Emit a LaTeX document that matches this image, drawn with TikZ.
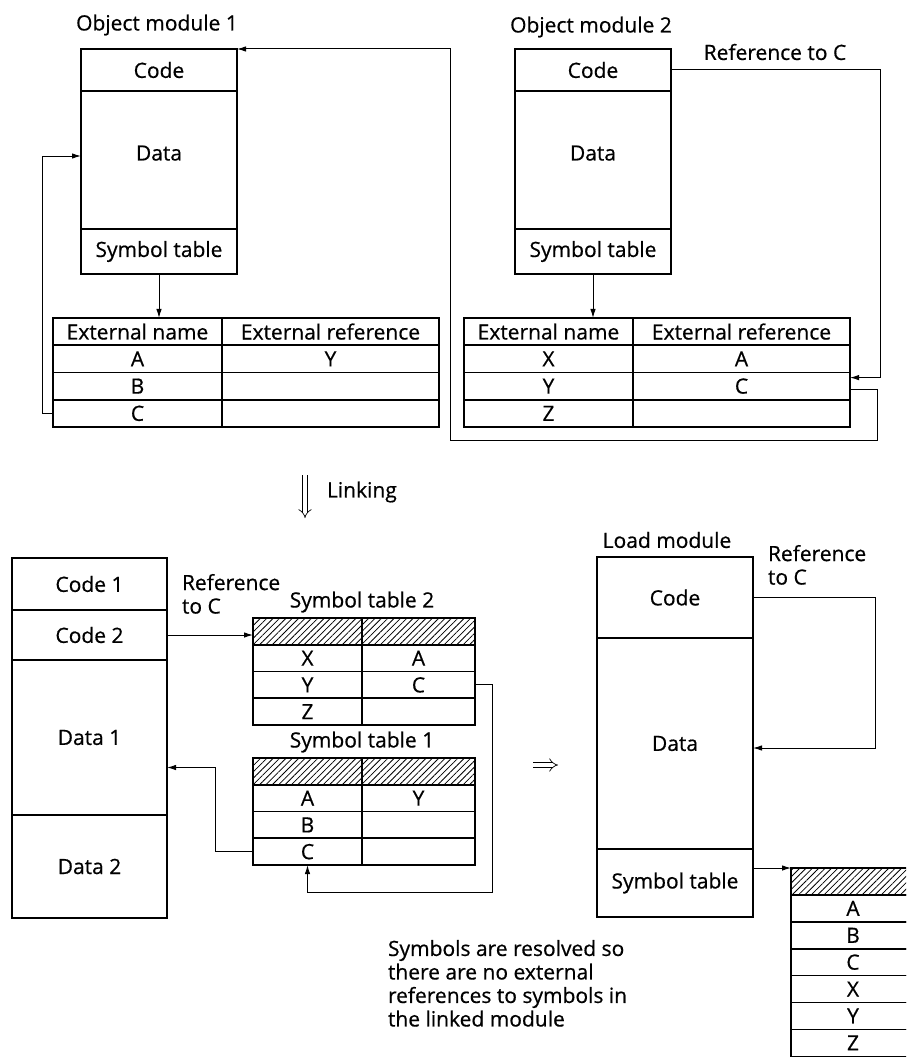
\documentclass[tikz,border=0pt]{standalone}
\usepackage{fontspec}
\setmainfont{Open Sans}[FakeBold=0.6]
\usetikzlibrary{arrows.meta,patterns.meta,calc}

\begin{document}
\begin{tikzpicture}[
    x=1pt, y=-1pt,
    >={Latex[length=9pt,width=5.5pt]},
    every node/.style={font=\fontsize{21}{23.5}\selectfont, inner sep=0pt, outer sep=0pt},
    seg/.style={rectangle, draw, line width=1.6pt, minimum width=#1},
    cell/.style={rectangle, draw, line width=1.6pt, minimum width=#1, minimum height=27.25},
    hdr/.style={pattern={Lines[angle=45,distance=4.5pt,line width=0.8pt]}},
    link/.style={->, line width=1pt},
    bigarrow/.style={double, double distance=4pt, line width=0.7pt, -{Implies}},
    note/.style={anchor=north west, align=left}
]
\clip (0,0) rectangle (906,1057);

% Object module 1
\node (om1lbl) at (157,25) {Object module 1};
\node[seg=156, minimum height=42]  (om1code) at (159,70)    {Code};
\node[seg=156, minimum height=138, text depth=14] (om1data) at (159,160) {Data};
\node[seg=156, minimum height=45]  (om1sym)  at (159,251.5) {Symbol table};

% Object module 2
\node (om2lbl) at (591,27) {Object module 2};
\node[seg=156, minimum height=42]  (om2code) at (593,70)    {Code};
\node[seg=156, minimum height=138, text depth=14] (om2data) at (593,160) {Data};
\node[seg=156, minimum height=45]  (om2sym)  at (593,251.5) {Symbol table};
\node (om2ref) at (775,52) {Reference to C};

% External tables
\foreach \n/\r [count=\i from 0] in {External name/External reference, A/Y, B/{}, C/{}} {
    \node[cell=169] (xt1n\i) at (137.5,331.6+27.25*\i) {\n};
    \node[cell=217] (xt1r\i) at (330.5,331.6+27.25*\i) {\r};
}
\foreach \n/\r [count=\i from 0] in {External name/External reference, X/A, Y/C, Z/{}} {
    \node[cell=169] (xt2n\i) at (548.5,331.6+27.25*\i) {\n};
    \node[cell=217] (xt2r\i) at (741.5,331.6+27.25*\i) {\r};
}

\draw[link] (om1sym.south) -- (om1sym.south |- xt1n0.north);
\draw[link] (om2sym.south) -- (om2sym.south |- xt2n0.north);
\draw[link] (xt1n3.west) -- ++(-11,0) |- ([yshift=4pt]om1data.west);
\draw[link] ([yshift=-3.5pt]xt2r2.east) -| (877,440) -| (450,49) -- (om1code.north east);
\draw[link] (om2code.east) -| ([xshift=30pt,yshift=8.5pt]xt2r2.east) -- ([yshift=8.5pt]xt2r2.east);

% Linking
\coordinate (lnktop) at (305,475);
\coordinate (lnkbot) at (305,518);
\draw[bigarrow] (lnktop) -- (lnkbot);
\node[anchor=west] (lnklbl) at (327,492) {Linking};

% Linked module
\node[seg=155, minimum height=52]  (lkc1) at (89.5,584)   {Code 1};
\node[seg=155, minimum height=50]  (lkc2) at (89.5,635)   {Code 2};
\node[seg=155, minimum height=155] (lkd1) at (89.5,737.5) {Data 1};
\node[seg=155, minimum height=103] (lkd2) at (89.5,866.5) {Data 2};
\node[note] (lkref) at (182,574) {Reference\\to C};

% Symbol table 2
\node (st2lbl) at (362,602) {Symbol table 2};
\node[cell=109, hdr, minimum height=26.75] (st2n0) at (307.5,631.4) {};
\node[cell=113, hdr, minimum height=26.75] (st2r0) at (418.5,631.4) {};
\foreach \n/\r [count=\i] in {X/A, Y/C, Z/{}} {
    \node[cell=109, minimum height=26.75] (st2n\i) at (307.5,631.4+26.75*\i) {\n};
    \node[cell=113, minimum height=26.75] (st2r\i) at (418.5,631.4+26.75*\i) {\r};
}

% Symbol table 1
\node (st1lbl) at (362,742) {Symbol table 1};
\node[cell=109, hdr, minimum height=26.75] (st1n0) at (307.5,771.4) {};
\node[cell=113, hdr, minimum height=26.75] (st1r0) at (418.5,771.4) {};
\foreach \n/\r [count=\i] in {A/Y, B/{}, C/{}} {
    \node[cell=109, minimum height=26.75] (st1n\i) at (307.5,771.4+26.75*\i) {\n};
    \node[cell=113, minimum height=26.75] (st1r\i) at (418.5,771.4+26.75*\i) {\r};
}

\draw[link] (lkc2.east) -- (lkc2.east -| st2n0.west);
\draw[link] (st1n3.west) -- ++(-38,0) |- ([yshift=-30pt]lkd1.east);
\draw[link] (st2r2.east) -- ++(17,0) |- ([yshift=-27pt]st1n3.south) -- (st1n3.south);

% Resolved
\draw[bigarrow] (533,765) -- (558,765);

% Load module
\node (lmlbl) at (667,540) {Load module};
\node[seg=156, minimum height=81]  (lmcode) at (675,597.5) {Code};
\node[seg=156, minimum height=211] (lmdata) at (675,743.5) {Data};
\node[seg=156, minimum height=68]  (lmsym)  at (675,883)   {Symbol table};
\node[note] (lmref) at (768,545) {Reference\\to C};

% Final symbol table
\node[cell=124, hdr, minimum height=26.9] (ftn0) at (853,881.45) {};
\node[cell=124, hdr, minimum height=26.9] (ftr0) at (977,881.45) {};
\foreach \n [count=\i] in {A, B, C, X, Y, Z} {
    \node[cell=124, minimum height=26.9] (ftn\i) at (853,881.45+26.9*\i) {\n};
    \node[cell=124, minimum height=26.9] (ftr\i) at (977,881.45+26.9*\i) {};
}

\draw[link] (lmcode.east) -- ++(122,0) |- ([yshift=-4.5pt]lmdata.east);
\draw[link] (ftn0.north west -| lmsym.east) -- (ftn0.north west);

\node[note] (resnote) at (388,940) {Symbols are resolved so\\there are no external\\references to symbols in\\the linked module};

\end{tikzpicture}
\end{document}
